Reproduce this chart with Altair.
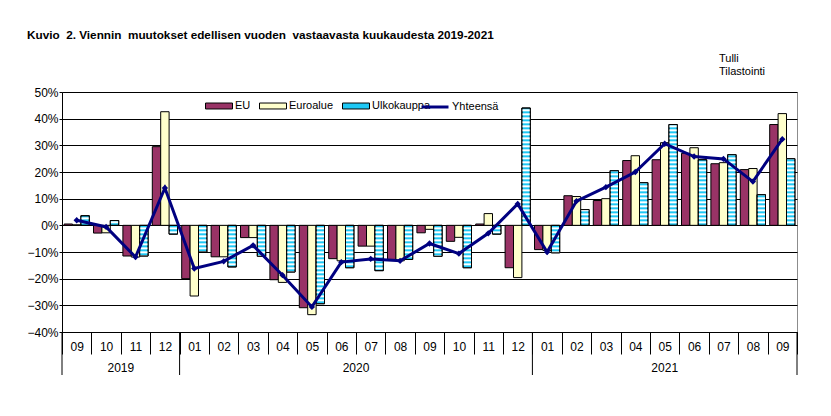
import altair as alt
import pandas as pd

# ---------------- data ----------------
years = ["2019"] * 4 + ["2020"] * 12 + ["2021"] * 9
months = ["09", "10", "11", "12",
          "01", "02", "03", "04", "05", "06", "07", "08", "09", "10", "11", "12",
          "01", "02", "03", "04", "05", "06", "07", "08", "09"]
series_names = ["EU", "Euroalue", "Ulkokauppa"]
line_name = "Yhteensä"

eu = [0.5, -2.9, -11.5, 29.5, -20.0, -11.8, -4.6, -20.4, -30.9, -12.5, -7.8, -12.8,
      -2.8, -6.0, 0.5, -15.9, -9.1, 11.1, 9.3, 24.3, 24.6, 27.0, 23.1, 20.9, 37.8]
euroalue = [0.2, -2.8, -11.9, 42.6, -26.5, -11.8, -4.6, -21.4, -33.5, -13.3, -7.8, -13.3,
            -1.5, -4.5, 4.4, -19.6, -9.4, 10.8, 10.0, 26.1, 31.0, 29.1, 23.5, 21.3, 41.9]
ulkokauppa = [3.6, 1.8, -11.5, -3.3, -10.0, -15.6, -11.6, -17.5, -29.4, -15.9, -17.0, -12.8,
              -11.6, -15.9, -3.3, 44.0, -10.3, 5.9, 20.5, 16.0, 37.8, 24.6, 26.5, 11.5, 25.0]
yhteensa = [1.9, -0.6, -11.9, 14.0, -16.2, -13.5, -7.5, -18.7, -30.6, -13.8, -12.6, -13.3,
            -6.8, -10.6, -3.0, 8.0, -10.0, 9.1, 14.3, 20.0, 30.6, 25.8, 24.9, 16.4, 32.3]
y_ticks = [-40, -30, -20, -10, 0, 10, 20, 30, 40, 50]
year_labels = ["2019", "2020", "2021"]
title_text = "Kuvio\u00a0 2. Viennin\u00a0 muutokset edellisen vuoden\u00a0 vastaavasta kuukaudesta 2019-2021"
source_line1 = "Tulli"
source_line2 = "Tilastointi"

# ---------------- tables ----------------
keys = [f"{y}-{m}" for y, m in zip(years, months)]
bars_rows = []
for i, k in enumerate(keys):
    for s, vals in zip(series_names, [eu, euroalue, ulkokauppa]):
        bars_rows.append({"key": k, "series": s, "v": vals[i]})
bars_df = pd.DataFrame(bars_rows)

period = 1.5
stripe_rows = []
for k, v in zip(keys, ulkokauppa):
    sgn = 1 if v >= 0 else -1
    a = abs(v)
    j = 0
    while j * period + period / 2 < a:
        lo = j * period + period / 2
        hi = min((j + 1) * period, a)
        stripe_rows.append({"key": k, "series": "Ulkokauppa", "y0": sgn * lo, "y1": sgn * hi})
        j += 1
stripe_df = pd.DataFrame(stripe_rows)

line_df = pd.DataFrame({"key": keys, "v": yhteensa, "name": line_name})

x_scale = alt.Scale(domain=keys, paddingInner=0, paddingOuter=0)
y_scale = alt.Scale(domain=[-40, 50], nice=False, zero=False)
off_scale = alt.Scale(domain=series_names, paddingInner=0, paddingOuter=0.25)
fill_scale = alt.Scale(domain=series_names, range=["#993366", "#FFFFCC", "#1EC8F5"])

LABEL_FONT = "Liberation Sans Narrow, Arial Narrow, Liberation Sans, Arial"
PLAIN_FONT = "Liberation Sans, Arial"

x_axis = alt.Axis(
    title=None, labelAngle=0, tickBand="extent", tickSize=22, tickColor="black",
    domainColor="black", labelPadding=-8, labelBaseline="middle",
    labelExpr="substring(datum.label, 5)", labelFont=LABEL_FONT, labelFontSize=12,
    labelColor="black", grid=False,
)
y_axis = alt.Axis(
    title=None, values=y_ticks, labelExpr="datum.label + '%'", tickSize=3,
    tickColor="black", domainColor="black", labelPadding=1, labelFont=PLAIN_FONT,
    labelFontSize=12, labelColor="black", grid=True, gridColor="black",
)

X = alt.X("key:N", scale=x_scale, axis=x_axis, sort=keys)
XO = alt.XOffset("series:N", scale=off_scale, sort=series_names)

base_bars = alt.Chart(bars_df).mark_bar(stroke="black", strokeWidth=1).encode(
    x=X, xOffset=XO,
    y=alt.Y("v:Q", scale=y_scale, axis=y_axis),
    fill=alt.Fill("series:N", scale=fill_scale, sort=series_names,
                  legend=alt.Legend(
                      title=None, orient="none", legendX=143, legendY=0, direction="horizontal",
                      symbolType="M-1,-0.22H1V0.22H-1Z", symbolSize=729,
                      symbolStrokeColor="black", symbolStrokeWidth=1,
                      labelFont=PLAIN_FONT, labelFontSize=11, labelColor="black",
                      labelOffset=2, columnPadding=6)),
)

stripes = alt.Chart(stripe_df).mark_bar(fill="white", strokeWidth=0).encode(
    x=X, xOffset=XO,
    y=alt.Y("y0:Q", scale=y_scale, axis=y_axis),
    y2="y1:Q",
)

ulko_df = bars_df[bars_df.series == "Ulkokauppa"]
outline = alt.Chart(ulko_df).mark_bar(fill="transparent", stroke="black", strokeWidth=1).encode(
    x=X, xOffset=XO,
    y=alt.Y("v:Q", scale=y_scale, axis=y_axis),
)

line = alt.Chart(line_df).mark_line(strokeWidth=3).encode(
    x=X,
    y=alt.Y("v:Q", scale=y_scale, axis=y_axis),
    stroke=alt.Stroke("name:N", scale=alt.Scale(domain=[line_name], range=["#000080"]),
                      legend=alt.Legend(
                          title=None, orient="none", legendX=358, legendY=0,
                          symbolType="M-1,0H1", symbolSize=729, symbolStrokeWidth=3,
                          labelFont=PLAIN_FONT, labelFontSize=11, labelColor="black",
                          labelOffset=2)),
)
points = alt.Chart(line_df).mark_point(shape="diamond", filled=True, size=40, color="#000080", opacity=1).encode(
    x=X,
    y=alt.Y("v:Q", scale=y_scale, axis=y_axis),
)

# year separators (band starts of first month of each year + end of last band)
sep_start = pd.DataFrame({"key": [keys[0], keys[4], keys[16]]})
sep_end = pd.DataFrame({"key": [keys[-1]]})
seps0 = alt.Chart(sep_start).mark_rule(color="black", strokeWidth=1).encode(
    x=alt.X("key:N", scale=x_scale, axis=x_axis, sort=keys, bandPosition=0),
    y=alt.value(240), y2=alt.value(283),
)
seps1 = alt.Chart(sep_end).mark_rule(color="black", strokeWidth=1).encode(
    x=alt.X("key:N", scale=x_scale, axis=x_axis, sort=keys, bandPosition=1),
    y=alt.value(240), y2=alt.value(283),
)
yl_a = pd.DataFrame({"key": [keys[1], keys[9]], "label": year_labels[:2]})
yl_b = pd.DataFrame({"key": [keys[20]], "label": year_labels[2:]})
ylab_a = alt.Chart(yl_a).mark_text(font=LABEL_FONT, fontSize=12, color="black", baseline="middle").encode(
    x=alt.X("key:N", scale=x_scale, axis=x_axis, sort=keys, bandPosition=1),
    y=alt.value(276), text="label:N",
)
ylab_b = alt.Chart(yl_b).mark_text(font=LABEL_FONT, fontSize=12, color="black", baseline="middle").encode(
    x=alt.X("key:N", scale=x_scale, axis=x_axis, sort=keys, bandPosition=0.5),
    y=alt.value(276), text="label:N",
)

title = alt.Chart(pd.DataFrame({"t": [title_text]})).mark_text(
    font=LABEL_FONT, fontSize=11.75, fontWeight="bold", color="black", align="left", baseline="middle"
).encode(x=alt.value(-35), y=alt.value(-57), text="t:N")

src1 = alt.Chart(pd.DataFrame({"t": [source_line1]})).mark_text(
    font=LABEL_FONT, fontSize=11, color="black", align="left", baseline="middle"
).encode(x=alt.value(657), y=alt.value(-33), text="t:N")
src2 = alt.Chart(pd.DataFrame({"t": [source_line2]})).mark_text(
    font=LABEL_FONT, fontSize=11, color="black", align="left", baseline="middle"
).encode(x=alt.value(657), y=alt.value(-20), text="t:N")

chart = alt.layer(
    base_bars, stripes, outline, line, points, seps0, seps1, ylab_a, ylab_b, title, src1, src2
).properties(
    width=735, height=240,
    padding={"left": 54, "top": 84, "right": 26, "bottom": 76},
    autosize=alt.AutoSizeParams(type="none"),
    background="white",
).configure_view(stroke="#8c8c8c", strokeWidth=1)

chart.save("out.html", embed_options={"renderer": "svg", "actions": False})
